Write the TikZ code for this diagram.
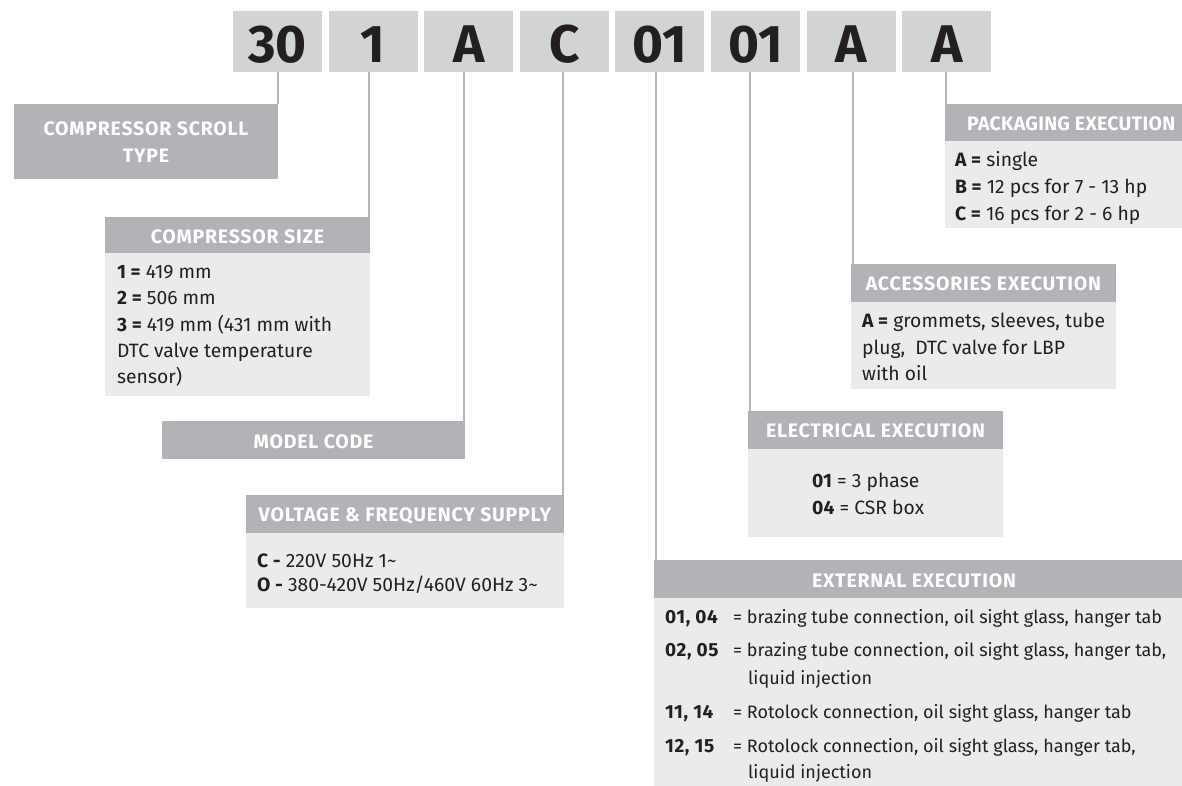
\documentclass[tikz,border=0pt]{standalone}
\usepackage{fontspec}
\setmainfont{Fira Sans}
\newfontfamily\hdfont[LetterSpace=4]{Fira Sans}
\newfontfamily\hdfontn[LetterSpace=1.5]{Fira Sans}
\newfontfamily\codefont[LetterSpace=3]{Fira Sans}
\definecolor{codebg}{HTML}{D1D3D4}
\definecolor{hdbg}{HTML}{B1B3B6}
\definecolor{bodybg}{HTML}{EBEBEC}
\definecolor{ink}{HTML}{231F20}
\definecolor{linec}{HTML}{B5B7BA}
\begin{document}
\begin{tikzpicture}[x=1pt,y=-1pt,
  codebox/.style={fill=codebg, minimum width=89pt, minimum height=61pt, inner sep=0pt,
    font=\fontsize{53}{53}\selectfont\bfseries, text=ink, text height=42pt, text depth=0pt},
  hdbox/.style={fill=hdbg, inner sep=0pt},
  hdtxt/.style={inner sep=0pt, text=white, font=\hdfont\fontsize{19.5}{27}\selectfont\bfseries},
  bodybox/.style={fill=bodybg, inner sep=0pt},
  txt/.style={anchor=base west, inner sep=0pt, text=ink, font=\fontsize{19.3}{22}\selectfont},
  xtxt/.style={anchor=base west, inner sep=0pt, text=ink, font=\fontsize{18}{22}\selectfont},
  xcode/.style={anchor=base west, inner sep=0pt, text=ink, font=\codefont\fontsize{19}{22}\selectfont\bfseries},
  conn/.style={draw=linec, line width=2pt},
]
\path[use as bounding box] (0,0) rectangle (1182,785);
\clip (0,0) rectangle (1182,785);

% code boxes
\node[codebox] (c1) at (277.5,41.5) {30};
\node[codebox] (c2) at (373.1,41.5) {1};
\node[codebox] (c3) at (468.7,41.5) {A};
\node[codebox] (c4) at (564.3,41.5) {C};
\node[codebox] (c5) at (659.9,41.5) {01};
\node[codebox] (c6) at (755.5,41.5) {01};
\node[codebox] (c7) at (851.1,41.5) {A};
\node[codebox] (c8) at (946.7,41.5) {A};

% compressor scroll type
\node[hdbox, minimum width=264pt, minimum height=75pt] (sc) at (146,141.5) {};
\node[hdtxt, align=center] (sct) at ([yshift=-1pt]sc.center) {COMPRESSOR SCROLL\\TYPE};

% compressor size
\node[hdbox, minimum width=265pt, minimum height=36pt] (hs) at (237.5,235) {};
\node[hdtxt, text height=13.5pt, text depth=0pt] (hst) at ([yshift=-1.5pt]hs.center) {COMPRESSOR SIZE};
\node[bodybox, minimum width=265pt, minimum height=143pt] (bs) at (237.5,324.5) {};
\node[txt] (s1) at (117,278) {\bfseries 1 =\mdseries{} 419 mm};
\node[txt] (s2) at (117,304.5) {\bfseries 2 =\mdseries{} 506 mm};
\node[txt] (s3) at (117,331) {\bfseries 3 =\mdseries{} 419 mm (431 mm with};
\node[txt] (s4) at (117,357) {DTC valve temperature};
\node[txt] (s5) at (117,383) {sensor)};

% model code
\node[hdbox, minimum width=303pt, minimum height=38pt] (mc) at (313.5,440) {};
\node[hdtxt, text height=13.5pt, text depth=0pt] (mct) at ([yshift=-1.5pt]mc.center) {MODEL CODE};

% voltage
\node[hdbox, minimum width=318pt, minimum height=38pt] (hv) at (405,514) {};
\node[hdtxt, text height=13.5pt, text depth=0pt] (hvt) at ([yshift=-1pt]hv.center) {VOLTAGE \& FREQUENCY SUPPLY};
\node[bodybox, minimum width=318pt, minimum height=75pt] (bv) at (405,570.5) {};
\node[txt] (v1) at (257,567) {\bfseries C -\mdseries{} 220V 50Hz 1\textasciitilde};
\node[txt] (v2) at (257,591) {\bfseries O -\mdseries{} 380-420V 50Hz/460V 60Hz 3\textasciitilde};

% packaging
\node[hdbox, minimum width=260pt, minimum height=37pt] (hp) at (1075,122.5) {};
\node[hdtxt, font=\hdfontn\fontsize{19.5}{27}\selectfont\bfseries, anchor=west, text height=13.5pt, text depth=0pt] (hpt) at (967,124) {PACKAGING EXECUTION};
\node[bodybox, minimum width=260pt, minimum height=87pt] (bp) at (1075,184.5) {};
\node[txt] (p1) at (955,166) {\bfseries A =\mdseries{} single};
\node[txt] (p2) at (955,193) {\bfseries B =\mdseries{} 12 pcs for 7 - 13 hp};
\node[txt] (p3) at (955,220) {\bfseries C =\mdseries{} 16 pcs for 2 - 6 hp};

% accessories
\node[hdbox, minimum width=265pt, minimum height=38pt] (ha) at (983.5,283) {};
\node[hdtxt, text height=13.5pt, text depth=0pt] (hat) at ([yshift=-1pt]ha.center) {ACCESSORIES EXECUTION};
\node[bodybox, minimum width=265pt, minimum height=87pt] (ba) at (983.5,345.5) {};
\node[txt] (a1) at (862,327) {\bfseries A =\mdseries{} grommets, sleeves, tube};
\node[txt] (a2) at (862,354) {plug,\ \ DTC valve for LBP};
\node[txt] (a3) at (862,380) {with oil};

% electrical
\node[hdbox, minimum width=255pt, minimum height=38pt] (he) at (875.5,430) {};
\node[hdtxt, text height=13.5pt, text depth=0pt] (het) at ([yshift=-1pt]he.center) {ELECTRICAL EXECUTION};
\node[bodybox, minimum width=255pt, minimum height=88pt] (be) at (875.5,493) {};
\node[txt] (e1) at (812,487) {\bfseries 01\mdseries{} = 3 phase};
\node[txt] (e2) at (812,514) {\bfseries 04\mdseries{} = CSR box};

% external
\node[hdbox, minimum width=536pt, minimum height=38pt] (hx) at (922,579) {};
\node[hdtxt, text height=13.5pt, text depth=0pt] (hxt) at (914,580.5) {EXTERNAL EXECUTION};
\node[bodybox, minimum width=536pt, minimum height=192pt] (bx) at (922,694) {};
\node[xcode] (x1c) at (665,623) {01, 04};
\node[xtxt] (x1) at (733,623) {= brazing tube connection, oil sight glass, hanger tab};
\node[xcode] (x2c) at (665,656) {02, 05};
\node[xtxt] (x2) at (733,656) {= brazing tube connection, oil sight glass, hanger tab,};
\node[xtxt] (x2b) at (748,684) {liquid injection};
\node[xcode] (x3c) at (665,718) {11, 14};
\node[xtxt] (x3) at (733,718) {= Rotolock connection, oil sight glass, hanger tab};
\node[xcode] (x4c) at (665,752) {12, 15};
\node[xtxt] (x4) at (733,752) {= Rotolock connection, oil sight glass, hanger tab,};
\node[xtxt] (x4b) at (748,778) {liquid injection};

% connectors
\coordinate (k1) at (sc.north east -| c1.south);
\coordinate (k2) at ([xshift=-1.5pt]hs.north east);
\coordinate (k3) at ([xshift=-1.5pt]mc.north east);
\coordinate (k4) at ([xshift=-1.5pt]hv.north east);
\coordinate (k5) at ([xshift=2pt]hx.north west);
\coordinate (k6) at ([xshift=2pt]he.north west);
\coordinate (k7) at ([xshift=2pt]ha.north west);
\coordinate (k8) at ([xshift=1.5pt]hp.north west);
\draw[conn] (c1.south) -- (k1);
\draw[conn] (k2 |- c2.south) -- (k2);
\draw[conn] (k3 |- c3.south) -- (k3);
\draw[conn] (k4 |- c4.south) -- (k4);
\draw[conn] (k5 |- c5.south) -- (k5);
\draw[conn] (k6 |- c6.south) -- (k6);
\draw[conn] (k7 |- c7.south) -- (k7);
\draw[conn] (k8 |- c8.south) -- (k8);
\end{tikzpicture}
\end{document}
